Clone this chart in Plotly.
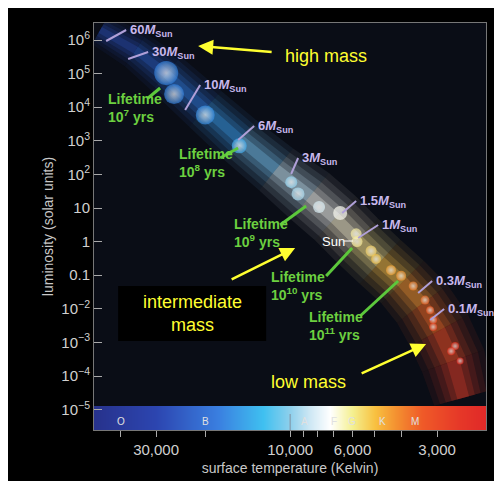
import math
import plotly.graph_objects as go

# main-sequence stars: log10 temperature, log10 luminosity, size, colour
star_logt = [4.441, 4.413, 4.302, 4.181, 3.996, 3.972, 3.897, 3.822, 3.765, 3.762,
             3.712, 3.694, 3.641, 3.605, 3.562, 3.520, 3.502, 3.491, 3.491, 3.413, 3.427, 3.395]
star_logl = [5.02, 4.39, 3.77, 2.85, 1.77, 1.42, 1.03, 0.85, 0.23, 0.0,
             -0.28, -0.52, -0.85, -1.02, -1.32, -1.74, -2.04, -2.33, -2.54, -3.11, -3.26, -3.55]
star_size = [24, 20, 19, 15, 12, 13, 12, 14, 11, 11, 11, 10, 10, 10, 9, 9, 8, 8, 8, 8, 8, 7]
star_color = ['#2a78d4', '#2a78d4', '#2f88de', '#3aa6ea', '#8fd2f0', '#a8dcf2', '#d8eef6', '#fbfbf0',
              '#f6ec9a', '#f6e890', '#f5d060', '#f2c040', '#f0a030', '#ee9028', '#ec7a24', '#ea6420',
              '#e8561e', '#e6481c', '#e4401c', '#e0301c', '#e0301c', '#de281c']

# glow band path (log T, log L), half-width in pixels, and colours per segment
band_logt = [4.676, 4.55, 4.441, 4.302, 4.181, 4.05, 3.93, 3.84, 3.762, 3.68, 3.60,
             3.53, 3.47, 3.42, 3.384]
band_logl = [6.3, 5.7, 5.0, 3.95, 3.05, 2.15, 1.35, 0.7, 0.05, -0.6, -1.2,
             -1.85, -2.65, -3.55, -4.65]
band_half = [0.55, 0.65, 0.75, 0.8, 0.85, 0.9, 1.0, 1.0, 1.0, 1.0, 1.0, 1.05, 1.1, 1.1, 1.0]
band_color = [(42, 76, 176), (42, 92, 192), (47, 120, 216), (58, 156, 232), (120, 196, 238),
              (200, 232, 248), (250, 252, 246), (252, 246, 210), (248, 226, 140), (242, 186, 72),
              (238, 146, 50), (234, 104, 40), (228, 76, 40), (216, 58, 42)]

# spectral bar colour stops (temperature K)
bar_temp = [50000, 30000, 18000, 12500, 10000, 8500, 7200, 6000, 5000, 4200, 3400, 2500, 2000]
bar_color = ['#27328c', '#2c45b0', '#3a7fe0', '#3fc0f0', '#8fd0ec', '#cfe8f4', '#ffffff',
             '#f4f090', '#f8c040', '#f49030', '#ef5a28', '#e63828', '#e02828']
class_letters = ['O', 'B', 'A', 'F', 'G', 'K', 'M']
class_temp = [40000, 20000, 8900, 7000, 6000, 4700, 3600]

ytick_vals = list(range(-5, 7))
ytick_text = ['10<sup>−5</sup>', '10<sup>−4</sup>', '10<sup>−3</sup>', '10<sup>−2</sup>', '0.1', '1',
              '10', '10<sup>2</sup>', '10<sup>3</sup>', '10<sup>4</sup>', '10<sup>5</sup>', '10<sup>6</sup>']
xtick_temp = [40000, 30000, 20000, 10000, 9000, 8000, 7000, 6000, 5000, 4000, 3000]
xtick_text = ['', '30,000', '', '10,000', '', '', '', '6,000', '', '', '3,000']

lg = math.log10
PX_X, PX_Y = 281, 33.6  # pixels per decade


def dx(px):
    return 4 - (px - 282) / PX_X


def dy(py):
    return 6 - (py - 32) / PX_Y


def band_edges(half):
    # offset the band path sideways by `half` pixels (scaled per point) on both sides
    n = len(band_logt)
    pts = [(-band_logt[i] * PX_X, band_logl[i] * PX_Y) for i in range(n)]
    left, right = [], []
    for i in range(n):
        a = pts[max(i - 1, 0)]
        b = pts[min(i + 1, n - 1)]
        tx, ty = b[0] - a[0], b[1] - a[1]
        norm = math.hypot(tx, ty)
        nx, ny = -ty / norm, tx / norm
        h = half * band_half[i]
        left.append((pts[i][0] + nx * h, pts[i][1] + ny * h))
        right.append((pts[i][0] - nx * h, pts[i][1] - ny * h))
    to_data = lambda p: (-p[0] / PX_X, p[1] / PX_Y)
    return [to_data(p) for p in left], [to_data(p) for p in right]


NARROW = 'Liberation Sans Narrow, Arial Narrow, sans-serif'
fig = go.Figure()

# spectral bar
fig.add_trace(go.Heatmap(
    x=[lg(t) for t in bar_temp], y=[dy(406), dy(422)],
    z=[list(range(len(bar_temp))), list(range(len(bar_temp)))],
    colorscale=[[i / (len(bar_color) - 1), c] for i, c in enumerate(bar_color)],
    zsmooth='best', showscale=False, hoverinfo='skip'))

# glow band as stacked soft quads
for half, op in [(30, 0.08), (24, 0.10), (18, 0.14), (12, 0.2), (6, 0.3)]:
    left, right = band_edges(half)
    for i in range(len(band_logt) - 1):
        xs = [left[i][0], left[i + 1][0], right[i + 1][0], right[i][0], left[i][0]]
        ys = [left[i][1], left[i + 1][1], right[i + 1][1], right[i][1], left[i][1]]
        r, g, b = band_color[i]
        fig.add_trace(go.Scatter(
            x=xs, y=ys, mode='lines', fill='toself', line=dict(width=0),
            fillcolor='rgba(%d,%d,%d,%.2f)' % (r, g, b, op),
            showlegend=False, hoverinfo='skip'))

fig.add_trace(go.Scatter(
    x=star_logt, y=star_logl, mode='markers',
    marker=dict(size=star_size, color=star_color, line=dict(width=0),
                gradient=dict(type='radial', color='rgba(255,255,255,0.9)')),
    showlegend=False))

# mass labels
masses = [('60', 118, 22, 98, 33), ('30', 140, 44, 120, 51), ('10', 192, 77, 177, 102),
          ('6', 246, 118, 230, 132), ('3', 290, 150, 283, 166), ('1.5', 348, 193, 334, 205),
          ('1', 370, 217, 350, 230), ('0.3', 424, 273, 410, 285), ('0.1', 436, 301, 422, 312)]
for m, tx, ty, lx, ly in masses:
    fig.add_shape(type='line', x0=dx(lx), y0=dy(ly), x1=dx(tx), y1=dy(ty),
                  line=dict(color='#b0a0d8', width=2))
    fig.add_annotation(x=dx(tx + 2), y=dy(ty), text='<b>%s<i>M</i><sub>Sun</sub></b>' % m, showarrow=False,
                       xanchor='left', font=dict(family=NARROW, size=13, color='#c8b8ec'))

# lifetimes
lifetimes = [('7', 127, 100, 140, 90, 152, 80), ('8', 198, 155, 212, 150, 230, 140),
             ('9', 253, 225, 272, 217, 298, 198), ('10', 290, 278, 318, 268, 344, 240),
             ('11', 328, 318, 352, 308, 390, 273)]
for p, tx, ty, x0, y0, x1, y1 in lifetimes:
    fig.add_shape(type='line', x0=dx(x0), y0=dy(y0), x1=dx(x1), y1=dy(y1),
                  line=dict(color='#5cc83c', width=3))
    fig.add_annotation(x=dx(tx), y=dy(ty), text='<b>Lifetime<br>10<sup>%s</sup> yrs</b>' % p,
                       showarrow=False, align='left',
                       font=dict(family=NARROW, size=14, color='#6cd040'))

fig.add_annotation(x=dx(325), y=dy(233), text='Sun', showarrow=False,
                   font=dict(family='Liberation Sans', size=13, color='white'))
fig.add_shape(type='line', x0=dx(336), y0=dy(233), x1=dx(345), y1=dy(233), line=dict(color='white', width=1))

# yellow callouts
fig.add_shape(type='rect', x0=dx(110), x1=dx(258), y0=dy(278), y1=dy(333),
              fillcolor='black', line=dict(width=0))
fig.add_annotation(x=dx(184), y=dy(305), text='intermediate<br>mass', showarrow=False,
                   font=dict(family='Liberation Sans', size=18, color='#ffff30'))
fig.add_annotation(x=dx(318), y=dy(48), text='high mass', showarrow=False,
                   font=dict(family='Liberation Sans', size=18, color='#ffff30'))
fig.add_annotation(x=dx(300), y=dy(374), text='low mass', showarrow=False,
                   font=dict(family='Liberation Sans', size=18, color='#ffff30'))
for x0, y0, x1, y1 in [(265, 44, 190, 38), (222, 272, 287, 240), (352, 366, 418, 336)]:
    fig.add_annotation(x=dx(x1), y=dy(y1), ax=dx(x0), ay=dy(y0), axref='x', ayref='y',
                       text='', showarrow=True, arrowhead=2, arrowsize=1.2, arrowwidth=2.5,
                       arrowcolor='#ffff30')

# spectral letters and divider
for c, t in zip(class_letters, class_temp):
    fig.add_annotation(x=lg(t), y=dy(413), text=c, showarrow=False,
                       font=dict(family='Liberation Sans', size=10, color='#e0e0e0'))
fig.add_shape(type='line', x0=4, x1=4, y0=dy(406), y1=dy(422), line=dict(color='#8090a0', width=1))

fig.update_layout(
    width=502, height=481, paper_bgcolor='black', plot_bgcolor='#0a0d16',
    margin=dict(l=86, r=24, t=15, b=59),
    xaxis=dict(range=[4.698, 3.303], tickvals=[lg(t) for t in xtick_temp], ticktext=xtick_text,
               ticks='outside', ticklen=6, tickcolor='#aaaaaa', showgrid=False, zeroline=False,
               tickfont=dict(family='Liberation Sans', size=15, color='#d0d0d0'),
               title=dict(text='surface temperature (Kelvin)', standoff=6,
                          font=dict(family='Liberation Sans', size=14, color='#c8c8c8')),
               showline=True, linecolor='#777777', mirror=True),
    yaxis=dict(range=[dy(422), dy(15)], tickvals=ytick_vals, ticktext=ytick_text,
               ticks='inside', ticklen=8, tickcolor='#aaaaaa', showgrid=False, zeroline=False,
               tickfont=dict(family='Liberation Sans', size=15, color='#d0d0d0'),
               title=dict(text='luminosity (solar units)', standoff=4,
                          font=dict(family='Liberation Sans', size=14, color='#c8c8c8')),
               showline=True, linecolor='#777777', mirror=True),
    showlegend=False,
)

fig.write_html("out.html")
